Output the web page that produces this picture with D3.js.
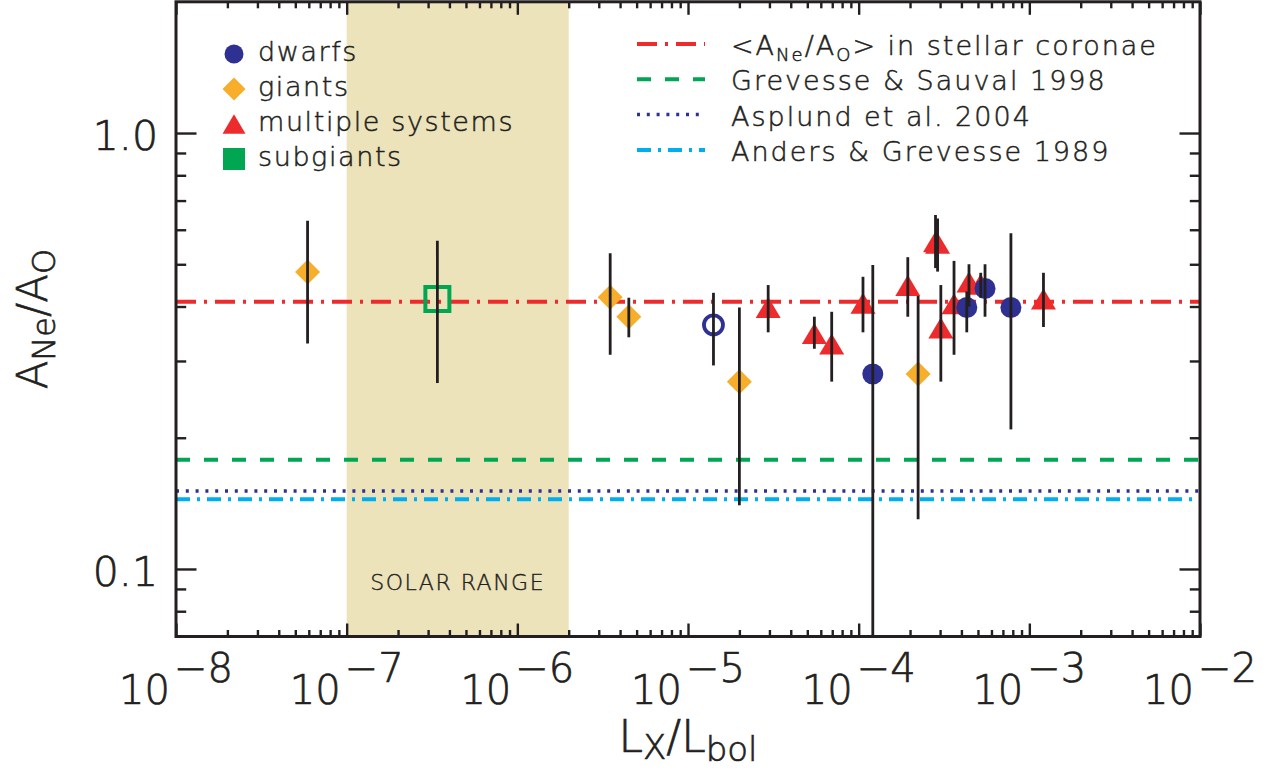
<!DOCTYPE html>
<html>
<head>
<meta charset="utf-8">
<script src="https://cdn.jsdelivr.net/npm/d3@7"></script>
<style>
  body { margin: 0; background: #fff; }
  svg { display: block; }
  text { font-family: "DejaVu Sans", sans-serif; fill: #231f20; font-weight: 300;
         stroke: #231f20; stroke-width: 0.7px; }
</style>
</head>
<body>
<svg id="chart" width="1277" height="780"></svg>
<script>
// Ne/O abundance ratio vs Lx/Lbol — each point: [Lx/Lbol, A_Ne/A_O, lower, upper]
const dwarfs = [
  [1.21e-4, 0.280, 0.050, 0.498],
  [4.30e-4, 0.398, 0.349, 0.433],
  [5.50e-4, 0.440, 0.379, 0.500],
  [7.80e-4, 0.398, 0.209, 0.589],
];
const dwarfsOpen = [
  [1.41e-5, 0.363, 0.293, 0.430],
];
const giants = [
  [5.9e-8, 0.480, 0.329, 0.629],
  [3.5e-6, 0.420, 0.310, 0.530],
  [4.5e-6, 0.379, 0.340, 0.419],
  [2.0e-5, 0.269, 0.140, 0.398],
  [2.23e-4, 0.280, 0.130, 0.423],
];
const multiples = [
  [2.95e-5, 0.398, 0.349, 0.448],
  [5.50e-5, 0.347, 0.320, 0.379],
  [6.95e-5, 0.328, 0.269, 0.389],
  [1.06e-4, 0.407, 0.349, 0.468],
  [1.94e-4, 0.447, 0.379, 0.519],
  [2.82e-4, 0.563, 0.490, 0.649],
  [2.90e-4, 0.559, 0.481, 0.637],
  [3.03e-4, 0.357, 0.269, 0.448],
  [3.62e-4, 0.406, 0.310, 0.509],
  [4.43e-4, 0.455, 0.400, 0.500],
  [5.19e-4, 0.450, 0.419, 0.478],
  [1.21e-3, 0.416, 0.359, 0.478],
];
const subgiants = [
  [3.4e-7, 0.416, 0.267, 0.566],
];

// reference Ne/O values (horizontal lines)
const refLabels = ["in stellar coronae", "Grevesse & Sauval 1998", "Asplund et al. 2004", "Anders & Grevesse 1989"];
const refValues = [0.41, 0.178, 0.151, 0.1445];

const solarRange = [1e-7, 2e-6];
const xMajor = [1e-8, 1e-7, 1e-6, 1e-5, 1e-4, 1e-3, 1e-2];
const xExponents = ["8", "7", "6", "5", "4", "3", "2"];
const yMajor = [0.1, 1.0];
const yMajorLabels = ["0.1", "1.0"];
const yMinor = [0.08, 0.09, 0.2, 0.3, 0.4, 0.5, 0.6, 0.7, 0.8, 0.9];

// styles
const INK = "#231f20";
const RED = "#ed2a2c", BLUE = "#2e3192", GOLD = "#f7ae2a", GREEN = "#00a651", CYAN = "#00aeef";
const refStyles = [
  { color: RED, dash: "20,8,3,8", width: 4 },
  { color: GREEN, dash: "14,14", width: 4 },
  { color: BLUE, dash: "3,6.8", width: 3.5 },
  { color: CYAN, dash: "14,7,3,7", width: 4 },
];

const svg = d3.select("#chart");
const X0 = 176, X1 = 1200, Y0 = 1.8, Y1 = 636.5;
const x = d3.scaleLog().domain([1e-8, 1e-2]).range([X0, X1]);
const y = d3.scaleLog().domain([0.07, 2.0]).range([Y1, Y0]);

svg.append("defs").append("clipPath").attr("id", "plot")
  .append("rect").attr("x", X0).attr("y", Y0).attr("width", X1 - X0).attr("height", Y1 - Y0);
const plot = svg.append("g").attr("clip-path", "url(#plot)");

// solar range band
plot.append("rect")
  .attr("x", x(solarRange[0])).attr("y", Y0)
  .attr("width", x(solarRange[1]) - x(solarRange[0])).attr("height", Y1 - Y0)
  .attr("fill", "#ece3ba");
svg.append("text")
  .attr("x", (x(solarRange[0]) + x(solarRange[1])) / 2).attr("y", 590)
  .attr("text-anchor", "middle").style("font-size", "22px").style("letter-spacing", "1.5px")
  .style("stroke-width", "0.4px")
  .text("SOLAR RANGE");

// reference lines
refValues.forEach((v, i) => {
  const s = refStyles[i];
  plot.append("line")
    .attr("x1", X0).attr("x2", X1).attr("y1", y(v)).attr("y2", y(v))
    .attr("stroke", s.color).attr("stroke-width", s.width).attr("stroke-dasharray", s.dash);
});

// marker shapes, centred on their box
function shapePath(shape, s) {
  const p = d3.path();
  if (shape === "circle") { p.arc(0, 0, s, 0, 2 * Math.PI); }
  else if (shape === "diamond") { p.moveTo(0, -s); p.lineTo(s, 0); p.lineTo(0, s); p.lineTo(-s, 0); p.closePath(); }
  else if (shape === "triangle") { p.moveTo(0, -s * 0.84); p.lineTo(s, s * 0.84); p.lineTo(-s, s * 0.84); p.closePath(); }
  else if (shape === "square") { p.rect(-s, -s, 2 * s, 2 * s); }
  return p.toString();
}

const series = [
  { data: giants, shape: "diamond", size: 12.5, fill: GOLD },
  { data: subgiants, shape: "square", size: 12, fill: "none", stroke: GREEN, sw: 4 },
  { data: dwarfsOpen, shape: "circle", size: 9.5, fill: "none", stroke: BLUE, sw: 3.8 },
  { data: multiples, shape: "triangle", size: 12.5, fill: RED },
  { data: dwarfs, shape: "circle", size: 10.5, fill: BLUE },
];

series.forEach((s) => {
  plot.selectAll(null).data(s.data).enter().append("path")
    .attr("transform", (d) => `translate(${x(d[0])},${y(d[1])})`)
    .attr("d", shapePath(s.shape, s.size))
    .attr("fill", s.fill)
    .attr("stroke", s.stroke || "none").attr("stroke-width", s.sw || 0);
});

// error bars on top of markers
series.forEach((s) => {
  plot.selectAll(null).data(s.data).enter().append("line")
    .attr("x1", (d) => x(d[0])).attr("x2", (d) => x(d[0]))
    .attr("y1", (d) => y(d[2])).attr("y2", (d) => y(d[3]))
    .attr("stroke", INK).attr("stroke-width", 2.8);
});

// axes: ticks point inward on all four sides
function minorX() {
  const out = [];
  for (let e = -8; e < -2; e++) for (let m = 2; m <= 9; m++) out.push(m * Math.pow(10, e));
  return out;
}
const axes = svg.append("g");
const styleAxis = (g) => {
  g.select(".domain").remove();
  g.selectAll("line").attr("stroke", INK).attr("stroke-width", 2.4);
  g.selectAll("text").remove();
};
axes.append("g").attr("transform", `translate(0,${Y1})`)
  .call(d3.axisBottom(x).tickValues(xMajor).tickSize(-13).tickFormat("")).call(styleAxis);
axes.append("g").attr("transform", `translate(0,${Y1})`)
  .call(d3.axisBottom(x).tickValues(minorX()).tickSize(-6.5).tickFormat("")).call(styleAxis);
axes.append("g").attr("transform", `translate(0,${Y0})`)
  .call(d3.axisTop(x).tickValues(xMajor).tickSize(-13).tickFormat("")).call(styleAxis);
axes.append("g").attr("transform", `translate(0,${Y0})`)
  .call(d3.axisTop(x).tickValues(minorX()).tickSize(-6.5).tickFormat("")).call(styleAxis);
axes.append("g").attr("transform", `translate(${X0},0)`)
  .call(d3.axisLeft(y).tickValues(yMajor).tickSize(-20.5).tickFormat("")).call(styleAxis);
axes.append("g").attr("transform", `translate(${X0},0)`)
  .call(d3.axisLeft(y).tickValues(yMinor).tickSize(-10.2).tickFormat("")).call(styleAxis);
axes.append("g").attr("transform", `translate(${X1},0)`)
  .call(d3.axisRight(y).tickValues(yMajor).tickSize(-20.5).tickFormat("")).call(styleAxis);
axes.append("g").attr("transform", `translate(${X1},0)`)
  .call(d3.axisRight(y).tickValues(yMinor).tickSize(-10.2).tickFormat("")).call(styleAxis);

// frame
svg.append("rect").attr("x", X0).attr("y", Y0).attr("width", X1 - X0).attr("height", Y1 - Y0)
  .attr("fill", "none").attr("stroke", INK).attr("stroke-width", 3);

// tick labels
xMajor.forEach((v, i) => {
  const t = svg.append("text").attr("x", x(v)).attr("y", 704)
    .attr("text-anchor", "middle").style("font-size", "40px");
  t.append("tspan").text("10");
  t.append("tspan").attr("dx", 4).attr("dy", -22).text("\u2212" + xExponents[i]);
});
yMajor.forEach((v, i) => {
  svg.append("text").attr("x", 158).attr("y", y(v) + 17)
    .attr("text-anchor", "end").style("font-size", "41px")
    .text(yMajorLabels[i]);
});

// axis titles
const xt = svg.append("text").attr("x", (X0 + X1) / 2).attr("y", 752)
  .attr("text-anchor", "middle").style("font-size", "44px");
xt.append("tspan").text("L");
xt.append("tspan").attr("dy", 7).style("font-size", "34px").text("X");
xt.append("tspan").attr("dy", -7).text("/L");
xt.append("tspan").attr("dy", 9).style("font-size", "34px").text("bol");

const yt = svg.append("text").attr("transform", `translate(47,${(Y0 + Y1) / 2}) rotate(-90)`)
  .attr("text-anchor", "middle").style("font-size", "42px");
yt.append("tspan").text("A");
yt.append("tspan").attr("dy", 8).style("font-size", "32px").text("Ne");
yt.append("tspan").attr("dy", -8).text("/A");
yt.append("tspan").attr("dy", 8).style("font-size", "32px").text("O");

// left legend: marker classes
const legendNames = ["dwarfs", "giants", "multiple systems", "subgiants"];
const legendShapes = [
  { shape: "circle", size: 9.5, fill: BLUE },
  { shape: "diamond", size: 11.5, fill: GOLD },
  { shape: "triangle", size: 11.5, fill: RED },
  { shape: "square", size: 11, fill: GREEN },
];
legendNames.forEach((name, i) => {
  const ly = 54 + i * 35;
  svg.append("path").attr("transform", `translate(234,${ly})`)
    .attr("d", shapePath(legendShapes[i].shape, legendShapes[i].size))
    .attr("fill", legendShapes[i].fill);
  svg.append("text").attr("x", 258).attr("y", ly + 7)
    .style("font-size", "27px").style("letter-spacing", "1.6px").style("stroke-width", "0.5px").text(name);
});

// right legend: reference lines
refLabels.forEach((label, i) => {
  const ly = 44 + i * 35.3;
  const s = refStyles[i];
  svg.append("line").attr("x1", 637).attr("x2", 705).attr("y1", ly).attr("y2", ly)
    .attr("stroke", s.color).attr("stroke-width", s.width).attr("stroke-dasharray", s.dash);
  const t = svg.append("text").attr("x", 731).attr("y", ly + 11)
    .style("font-size", "27px").style("letter-spacing", "2px").style("stroke-width", "0.5px");
  if (i === 0) {
    t.append("tspan").text("<A");
    t.append("tspan").attr("dy", 6).style("font-size", "18px").text("Ne");
    t.append("tspan").attr("dy", -6).text("/A");
    t.append("tspan").attr("dy", 6).style("font-size", "18px").text("O");
    t.append("tspan").attr("dy", -6).text("> " + label);
  } else {
    t.text(label);
  }
});
</script>
</body>
</html>
